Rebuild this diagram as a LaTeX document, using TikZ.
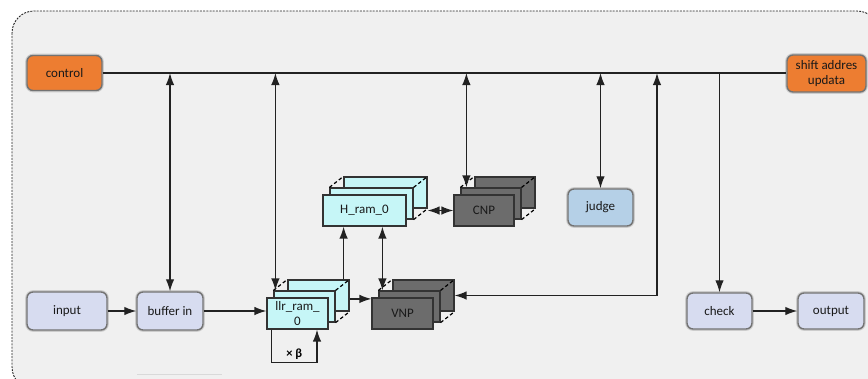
\documentclass[tikz,border=0pt]{standalone}
\usepackage{fontspec}
\setmainfont{Carlito}
\usepackage{tikz}
\usetikzlibrary{arrows.meta, calc, positioning}

\definecolor{ctrlOrange}{HTML}{ED7D31}
\definecolor{ioBlue}{HTML}{D7DCF0}
\definecolor{judgeBlue}{HTML}{B5D0E7}
\definecolor{ramCyan}{HTML}{C6F6F7}
\definecolor{peGray}{HTML}{6C6C6C}
\definecolor{panelGray}{HTML}{F0F0F0}
\definecolor{wireBlack}{HTML}{222222}

% three boxes stacked in depth: #1 name, #2 centre of the front box, #3 style, #4 width, #5 text
\newcommand{\boxStack}[5]{%
  \node [#3, minimum width=#4] (#1Back) at ($(#2)+(21,-18)$) {};
  \node [#3, minimum width=#4] (#1Mid) at ($(#2)+(7,-7)$) {};
  \node [#3, minimum width=#4, align=center] (#1Front) at (#2) {#5};
  \draw [depth] (#1Mid.north west) -- (#1Back.north west)
                (#1Mid.north east) -- (#1Back.north east)
                (#1Mid.south east) -- (#1Back.south east);
}

\begin{document}
\begin{tikzpicture}[x=1pt, y=-1pt, >={Latex[length=12pt,width=8.5pt]},
    font=\fontsize{13}{15}\selectfont,
    wire/.style = {draw=wireBlack, line width=1.3pt},
    block/.style = {rectangle, rounded corners=6pt, draw=black!55, line width=1.4pt,
                    preaction={draw=black!20, line width=3.6pt}, text=black!90, inner sep=2pt},
    ctrlbox/.style = {block, fill=ctrlOrange, minimum width=75pt, minimum height=35pt},
    iobox/.style = {block, fill=ioBlue, minimum width=66pt, minimum height=38pt},
    judgebox/.style = {block, fill=judgeBlue, minimum width=65pt, minimum height=37pt},
    rambox/.style = {rectangle, draw=black!80, line width=1.2pt, fill=ramCyan,
                     minimum height=31pt, inner sep=1pt, text=black!90},
    pebox/.style = {rambox, fill=peGray},
    depth/.style = {draw=black, line width=1.2pt, dash pattern=on 3.5pt off 2.5pt}]

    % panel
    \useasboundingbox (0,0) rectangle (868,378);
    \fill [white] (0,0) rectangle (868,378);
    \begin{scope}
        \clip (0,0) rectangle (868,378);
        \draw [fill=panelGray, draw=black!85, line width=0.9pt, dash pattern=on 2pt off 1.2pt,
               rounded corners=22pt] (12,11) rectangle (879,389);
        \draw [black!15, line width=1pt] (137,374) -- (222,374);
    \end{scope}

    % control and address update
    \node [ctrlbox] (control) at (64.5,73) {control};
    \node [ctrlbox, minimum width=79pt, minimum height=37pt, align=center] (shiftAddr) at (826.5,73.5) {shift addres\\updata};

    % data path
    \node [iobox, minimum width=80pt] (input) at (67,311) {input};
    \node [iobox, right of=input, node distance=103pt] (bufferIn) {buffer in};
    \node [judgebox] (judge) at (600.5,207.5) {judge};
    \node [iobox, minimum width=65pt, minimum height=36pt] (check) at (719.5,311) {check};
    \node [iobox, right of=check, node distance=111.5pt, minimum height=36pt] (output) {output};

    % memories and processing units
    \boxStack{llr}{297.5,313.5}{rambox}{61pt}{llr\_ram\_\\0}
    \boxStack{hram}{364.5,210.5}{rambox}{83pt}{H\_ram\_0}
    \boxStack{cnp}{484,210.5}{pebox}{60pt}{CNP}
    \boxStack{vnp}{402.5,313.5}{pebox}{61pt}{VNP}

    \coordinate (llrTap) at ($(llrMid.north west)+(2,0)$);
    \coordinate (llrUp) at ($(llrBack.north east)+(-6,0)$);
    \coordinate (vnpUp) at ($(vnpMid.north west)+(4,0)$);
    \coordinate (vnpIn) at ($(vnpFront.north west)+(0,1.5)$);
    \coordinate (cnpTap) at ($(cnpMid.north west)+(6,0)$);
    \coordinate (busTap) at (657,73);

    % control bus
    \draw [wire] (control.east) -- (control.east -| shiftAddr.west);
    \draw [wire, <->] (bufferIn.north |- control.east) -- (bufferIn.north);
    \draw [wire, <->] (llrTap |- control.east) -- (llrTap);
    \draw [wire, <->] (cnpTap |- control.east) -- (cnpTap);
    \draw [wire, <->] (judge.north |- control.east) -- (judge.north);
    \draw [wire, <->] (vnpBack.east) -| (busTap);
    \draw [wire, ->] (check.north |- control.east) -- (check.north);

    % data flow
    \draw [wire, ->] (input) -- (bufferIn);
    \draw [wire, ->] (bufferIn) -- (bufferIn -| llrFront.west);
    \draw [wire, ->] (llrBack.east |- vnpIn) -- (vnpIn);
    \draw [wire, ->] (llrUp) -- (llrUp |- hramFront.south);
    \draw [wire, <->] (vnpUp |- hramFront.south) -- (vnpUp);
    \draw [wire, <->] (hramBack.east |- cnpFront.west) -- (cnpFront.west);
    \draw [wire, ->] (check) -- (output);

    % scaling loop
    \draw [wire, ->] ($(llrFront.south west)+(5,0)$) -- ++(0,33)
        -| node [pos=0.25, above, inner sep=2.5pt, font=\fontsize{12.5}{14}\selectfont\bfseries] (scaleLbl) {× β}
        ($(llrFront.south)+(19.5,0)$);
\end{tikzpicture}
\end{document}
